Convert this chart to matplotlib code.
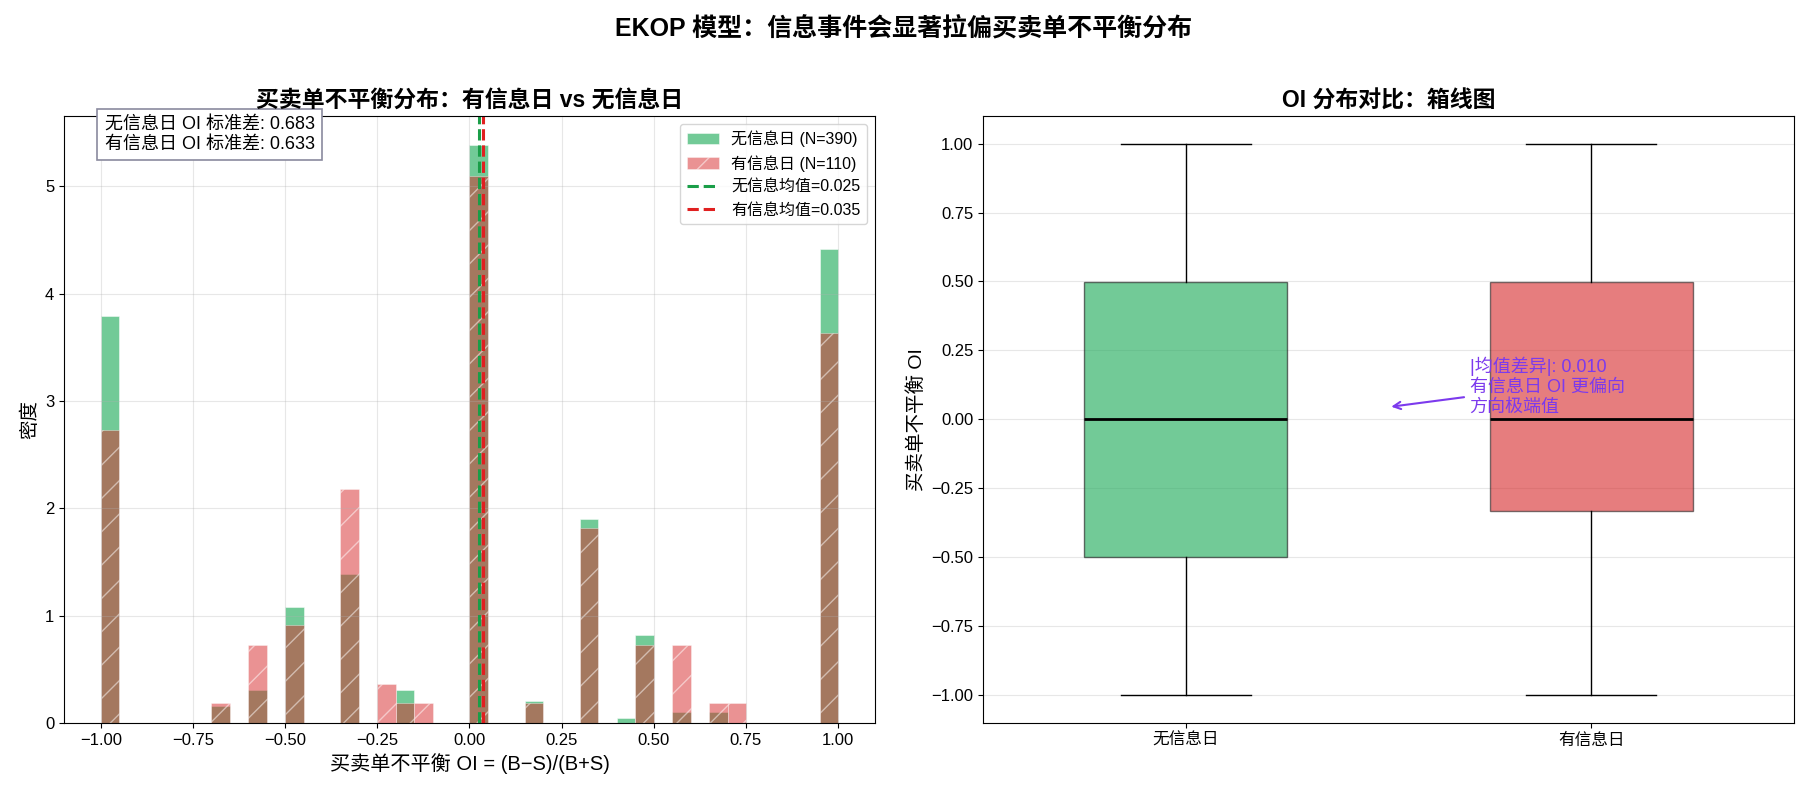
import numpy as np
import matplotlib
matplotlib.use("Agg")
import matplotlib.pyplot as plt

plt.rcParams['font.family'] = ['Liberation Sans', 'Noto Sans CJK SC', 'DejaVu Sans']

# OI 取值 (B-S)/(B+S) 及各自出现的天数
oi_values = np.array([-1, -2/3, -0.6, -0.5, -1/3, -0.25, -1/6, -1/7, 0,
                      1/6, 1/3, 3/7, 0.4999, 0.6, 2/3, 5/7, 1])
cnt_no_info = np.array([74, 3, 6, 21, 27, 0, 6, 0, 105, 4, 37, 1, 16, 2, 2, 0, 86])
cnt_info = np.array([15, 1, 4, 5, 12, 2, 1, 1, 28, 1, 10, 0, 4, 4, 1, 1, 20])

group_labels = ['无信息日', '有信息日']

oi_no = np.repeat(oi_values, cnt_no_info)
oi_yes = np.repeat(oi_values, cnt_info)

green = '#27ae60'
red = '#d62728'
line_green = '#1a9e48'
line_red = '#e02020'
purple = '#7c3aed'

mean_no, mean_yes = oi_no.mean(), oi_yes.mean()
std_no, std_yes = oi_no.std(), oi_yes.std()

fig, (ax1, ax2) = plt.subplots(1, 2, figsize=(18.07, 7.94), dpi=100)
fig.subplots_adjust(left=0.0354, right=0.9928, wspace=0.1332, top=0.854, bottom=0.0894)

# --- 左图: 直方图 ---
ax1.hist(oi_no, bins=40, range=(-1, 1), density=True, color=green, alpha=0.65,
         edgecolor='white', linewidth=0.5, label=f'无信息日 (N={len(oi_no)})')
ax1.hist(oi_yes, bins=40, range=(-1, 1), density=True, color=red, alpha=0.5,
         edgecolor='white', linewidth=0.5, hatch='/', label=f'有信息日 (N={len(oi_yes)})')
ax1.axvline(mean_no, color=line_green, linestyle='--', linewidth=2.2,
            label=f'无信息均值={mean_no:.3f}')
ax1.axvline(mean_yes, color=line_red, linestyle='--', linewidth=2.2,
            label=f'有信息均值={mean_yes:.3f}')
ax1.set_xlabel('买卖单不平衡 OI = (B−S)/(B+S)', fontsize=14.5)
ax1.set_ylabel('密度', fontsize=14)
ax1.set_title('买卖单不平衡分布：有信息日 vs 无信息日', fontsize=16.5, fontweight='bold')
ax1.legend(loc='upper right', fontsize=11.5)
ax1.grid(True, alpha=0.3)
ax1.tick_params(labelsize=12)
ax1.text(0.05, 0.999, f'无信息日 OI 标准差: {std_no:.3f}\n有信息日 OI 标准差: {std_yes:.3f}',
         transform=ax1.transAxes, va='top', ha='left', fontsize=13,
         bbox=dict(boxstyle='square,pad=0.4', facecolor='white', edgecolor='#8a8a9e', linewidth=1.2))

# --- 右图: 箱线图 ---
bp = ax2.boxplot([oi_no, oi_yes], widths=0.5, patch_artist=True, tick_labels=group_labels,
                 capwidths=0.32,
                 medianprops=dict(color='black', linewidth=2),
                 whiskerprops=dict(color='black', linewidth=1),
                 capprops=dict(color='black', linewidth=1))
for patch, c, a in zip(bp['boxes'], [green, red], [0.65, 0.6]):
    patch.set_facecolor(c)
    patch.set_alpha(a)
    patch.set_edgecolor('#222222')
ax2.set_ylabel('买卖单不平衡 OI', fontsize=14)
ax2.set_title('OI 分布对比：箱线图', fontsize=16.5, fontweight='bold')
ax2.grid(True, axis='y', alpha=0.3)
ax2.tick_params(labelsize=12)
ax2.annotate(f'|均值差异|: {abs(mean_yes - mean_no):.3f}\n有信息日 OI 更偏向\n方向极端值',
             xy=(1.5, 0.045), xytext=(1.7, 0.12), ha='left', va='center',
             fontsize=13, color=purple,
             arrowprops=dict(arrowstyle='->', color=purple, lw=1.5))

fig.suptitle('EKOP 模型：信息事件会显著拉偏买卖单不平衡分布', fontsize=18,
             fontweight='bold', y=0.963, va='center')

fig.savefig('out.png', dpi=100)
